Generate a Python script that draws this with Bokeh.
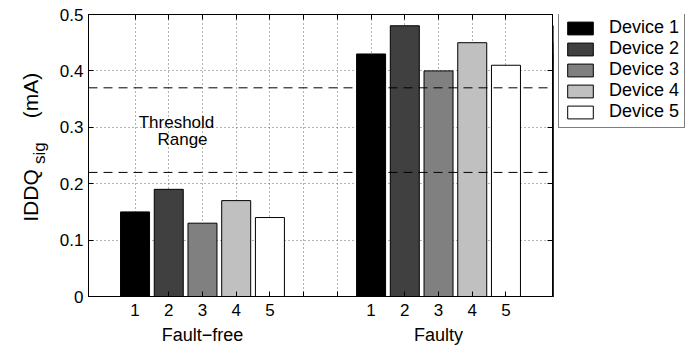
import math
from bokeh.plotting import figure
from bokeh.layouts import row
from bokeh.models import (Span, Label, FixedTicker, LinearAxis, Range1d, Legend)
from bokeh.embed import file_html
from bokeh.resources import INLINE

# ---- data ----
groups = ["Fault\u2212free", "Faulty"]
devices = ["Device 1", "Device 2", "Device 3", "Device 4", "Device 5"]
fault_free = [0.15, 0.19, 0.13, 0.17, 0.14]
faulty = [0.43, 0.48, 0.40, 0.45, 0.41]
thresholds = [0.22, 0.37]
y_ticks = [0, 0.1, 0.2, 0.3, 0.4, 0.5]
y_tick_labels = ["0", "0.1", "0.2", "0.3", "0.4", "0.5"]
bar_colors = ["#000000", "#404040", "#808080", "#c0c0c0", "#ffffff"]
y_label_parts = ["IDDQ", "sig", "(mA)"]
threshold_text = ["Threshold", "Range"]

FONT = "Liberation Sans"
X0, X1 = -0.38, 13.38
Y0, Y1 = 0.0, 0.5

H = 347
WY, WM, WL = 54, 499, 133          # y-label strip, main plot, legend strip
BL, BR, BT, BB = 34, 1, 14, 50     # main plot borders
FW, FH = WM - BL - BR, H - BT - BB


def px_x(px):  # page x -> main data x
    return X0 + (px - WY - BL) * (X1 - X0) / FW


def px_y(py):  # page y -> data y (all strips share the frame rows)
    return Y0 + (H - BB - py) * (Y1 - Y0) / FH


# ---------------- main plot ----------------
p = figure(width=WM, height=H, output_backend="svg", toolbar_location=None,
           x_range=Range1d(X0, X1), y_range=Range1d(Y0, Y1),
           min_border_left=BL, min_border_right=BR, min_border_top=BT,
           min_border_bottom=BB, background_fill_color="white",
           border_fill_color="white")
p.outline_line_color = "black"
p.outline_line_width = 1

pos1 = [i + 1 for i in range(len(devices))]
pos2 = [i + 8 for i in range(len(devices))]
all_ticks = list(range(1, 13))
overrides = {}
for t in all_ticks:
    if t in pos1:
        overrides[t] = str(pos1.index(t) + 1)
    elif t in pos2:
        overrides[t] = str(pos2.index(t) + 1)
    else:
        overrides[t] = ""

for i, dev in enumerate(devices):
    p.vbar(x=[pos1[i], pos2[i]], top=[fault_free[i], faulty[i]], width=0.86,
           fill_color=bar_colors[i], line_color="black", line_width=1)

for t in thresholds:
    p.add_layout(Span(location=t, dimension="width", line_color="black",
                      line_dash="9 6", line_width=1))

xa = p.xaxis[0]
xa.ticker = FixedTicker(ticks=all_ticks)
xa.major_label_overrides = overrides
ya = p.yaxis[0]
ya.ticker = FixedTicker(ticks=y_ticks)
ya.major_label_overrides = {t: l for t, l in zip(y_ticks, y_tick_labels)}
for ax in (xa, ya):
    ax.axis_line_color = "black"
    ax.major_tick_in = 5
    ax.major_tick_out = 0
    ax.minor_tick_line_color = None
    ax.major_label_text_font = FONT
    ax.major_label_text_font_size = "17px"
    ax.major_label_text_color = "black"
    ax.major_tick_line_color = "black"
xa.major_label_standoff = 7
ya.major_label_standoff = 5

# box ticks on top and right
top_axis = LinearAxis(ticker=FixedTicker(ticks=all_ticks),
                      major_label_overrides={t: "" for t in all_ticks},
                      major_tick_in=5, major_tick_out=0, major_label_standoff=0,
                      minor_tick_line_color=None, axis_line_color="black",
                      major_label_text_font_size="1px")
p.add_layout(top_axis, "above")
right_axis = LinearAxis(ticker=FixedTicker(ticks=y_ticks),
                        major_label_overrides={t: "" for t in y_ticks},
                        major_tick_in=5, major_tick_out=0, major_label_standoff=0,
                        minor_tick_line_color=None, axis_line_color="black",
                        major_label_text_font_size="1px")
p.add_layout(right_axis, "right")

# group labels as second bottom axis
ga = LinearAxis(ticker=FixedTicker(ticks=[3, 10]),
                major_label_overrides={3: groups[0], 10: groups[1]},
                axis_line_color=None, major_tick_line_color=None,
                minor_tick_line_color=None, major_label_standoff=0,
                major_label_text_font=FONT, major_label_text_font_size="18px",
                major_label_text_color="black")
p.add_layout(ga, "below")

p.xgrid.ticker = FixedTicker(ticks=all_ticks)
p.ygrid.ticker = FixedTicker(ticks=y_ticks[1:-1])
for g in (p.xgrid, p.ygrid):
    g.grid_line_color = "#666666"
    g.grid_line_dash = "1 3"
    g.grid_line_width = 1

p.add_layout(Label(x=px_x(176), y=px_y(122), text=threshold_text[0],
                   text_align="center", text_baseline="middle", text_font=FONT,
                   text_font_size="17px", text_color="black"))
p.add_layout(Label(x=px_x(182), y=px_y(139), text=threshold_text[1],
                   text_align="center", text_baseline="middle", text_font=FONT,
                   text_font_size="17px", text_color="black"))

# ---------------- y-label strip ----------------
py_ = figure(width=WY, height=H, output_backend="svg", toolbar_location=None,
             x_range=Range1d(0, WY), y_range=Range1d(Y0, Y1),
             x_axis_type=None, y_axis_type=None, min_border_left=0,
             min_border_right=0, min_border_top=BT, min_border_bottom=BB,
             background_fill_color="white", border_fill_color="white")
py_.outline_line_color = None
py_.grid.visible = False
label_spec = [(y_label_parts[0], 30, 222, "21px"),
              (y_label_parts[1], 39, 164, "17px"),
              (y_label_parts[2], 30, 118, "21px")]
for txt, bx, sy, fs in label_spec:
    py_.add_layout(Label(x=bx, y=px_y(sy), text=txt, angle=math.pi / 2,
                         text_align="left", text_baseline="alphabetic",
                         text_font=FONT, text_font_size=fs, text_color="black"))

# ---------------- legend strip ----------------
# the same bars are drawn here, outside this strip's visible x-range, so that
# the legend can show their swatches
pl = figure(width=WL, height=H, output_backend="svg", toolbar_location=None,
            x_range=Range1d(100, 101), y_range=Range1d(Y0, Y1),
            x_axis_type=None, y_axis_type=None, min_border_left=0,
            min_border_right=0, min_border_top=BT, min_border_bottom=BB,
            background_fill_color="white", border_fill_color="white")
pl.outline_line_color = None
pl.grid.visible = False
legend_items = []
for i, dev in enumerate(devices):
    r = pl.vbar(x=[pos1[i], pos2[i]], top=[fault_free[i], faulty[i]], width=0.86,
                fill_color=bar_colors[i], line_color="black", line_width=1)
    legend_items.append((dev, [r]))
legend = Legend(items=legend_items, location=(5, FH - 115), margin=0,
                padding=5, spacing=0, glyph_width=32, glyph_height=16,
                label_height=21, label_standoff=13, border_line_color="black",
                border_line_width=1, background_fill_color="white",
                background_fill_alpha=1.0, label_text_font=FONT,
                label_text_font_size="18px", label_text_color="black",
                label_text_baseline="middle")
pl.add_layout(legend, "center")

layout = row(py_, p, pl, spacing=0)
open("out.html", "w").write(file_html(layout, INLINE))
